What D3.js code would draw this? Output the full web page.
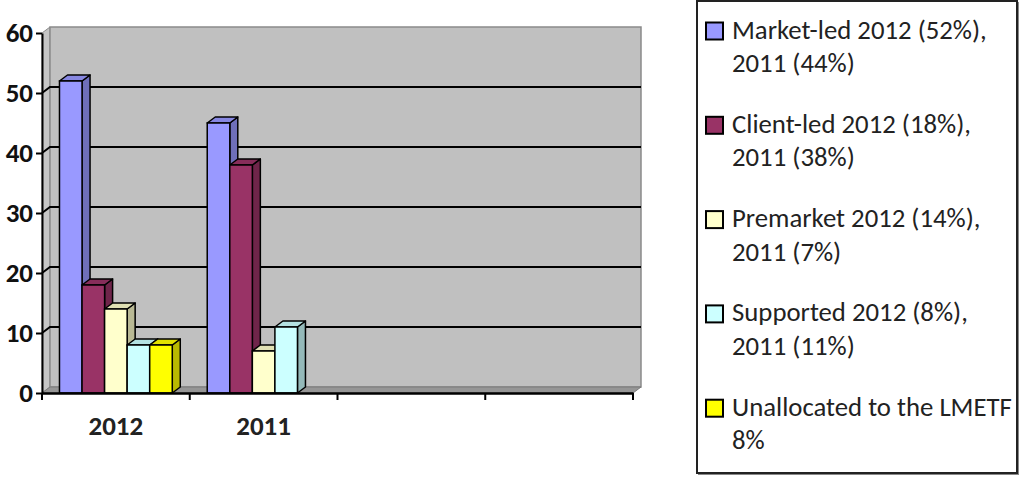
<!DOCTYPE html>
<html>
<head>
<meta charset="utf-8">
<script src="https://cdn.jsdelivr.net/npm/d3@7"></script>
<style>
  body { margin: 0; background: #fff; }
  text { font-family: Carlito, Calibri, Lato, sans-serif; }
</style>
</head>
<body>
<svg id="chart" width="1020" height="478"></svg>
<script>
// data
var categories = ["2012", "2011", "", ""];
var seriesNames = ["Market-led", "Client-led", "Premarket", "Supported", "Unallocated"];
var marketLed = [52, 45, null, null];
var clientLed = [18, 38, null, null];
var premarket = [14, 7, null, null];
var supported = [8, 11, null, null];
var unallocated = [8, null, null, null];
var seriesColors = ["#9999ff", "#993366", "#ffffcc", "#ccffff", "#ffff00"];
var yTicks = [0, 10, 20, 30, 40, 50, 60];
var legendLines = [
  ["Market-led 2012 (52%),", "2011 (44%)"],
  ["Client-led 2012 (18%),", "2011 (38%)"],
  ["Premarket 2012 (14%),", "2011 (7%)"],
  ["Supported 2012 (8%),", "2011 (11%)"],
  ["Unallocated to the LMETF", "8%"]
];

var seriesValues = [marketLed, clientLed, premarket, supported, unallocated];

var svg = d3.select("#chart");

var plot = { left: 42, right: 633, top: 33, bottom: 393 };
var depth = { dx: 8, dy: -6 };
var axisFont = "Carlito, Calibri, Lato, sans-serif";

var x = d3.scaleBand().domain(d3.range(categories.length)).range([plot.left, plot.right]).padding(0);
var xs = d3.scaleBand().domain(d3.range(seriesNames.length)).range([0, x.bandwidth()])
  .paddingInner(0).paddingOuter(0.775);
var y = d3.scaleLinear().domain([0, 60]).range([plot.bottom, plot.top]);

// walls and floor
var g = svg.append("g");
g.append("polygon")
  .attr("points", [[plot.left, y(60)], [plot.left + depth.dx, y(60) + depth.dy],
    [plot.left + depth.dx, y(0) + depth.dy], [plot.left, y(0)]].join(" "))
  .style("fill", "#c6c6c6").style("stroke", "#8a8a8a");
g.append("rect")
  .attr("x", plot.left + depth.dx).attr("y", y(60) + depth.dy)
  .attr("width", plot.right - plot.left).attr("height", y(0) - y(60))
  .style("fill", "#c0c0c0").style("stroke", "#8a8a8a").style("stroke-width", 1.5);
g.append("polygon")
  .attr("points", [[plot.left, y(0)], [plot.left + depth.dx, y(0) + depth.dy],
    [plot.right + depth.dx, y(0) + depth.dy], [plot.right, y(0)]].join(" "))
  .style("fill", "#969696").style("stroke", "#7a7a7a");

// gridlines on the walls
g.selectAll(".grid")
  .data(yTicks.filter(function(t){ return t > 0 && t < 60; }))
  .enter().append("polyline")
  .attr("class", "grid")
  .attr("points", function(t) {
    return [[plot.left, y(t)], [plot.left + depth.dx, y(t) + depth.dy],
      [plot.right + depth.dx, y(t) + depth.dy]].join(" ");
  })
  .style("fill", "none").style("stroke", "#000").style("stroke-width", 2);

// bars
var bars = [];
categories.forEach(function(c, ci) {
  seriesValues.forEach(function(vals, si) {
    if (vals[ci] != null) bars.push({ ci: ci, si: si, v: vals[ci] });
  });
});

var barG = svg.selectAll(".bar").data(bars).enter().append("g").attr("class", "bar");
barG.each(function(d) {
  var sel = d3.select(this);
  var x0 = x(d.ci) + xs(d.si), w = xs.bandwidth();
  var yt = y(d.v), yb = y(0);
  var base = d3.color(seriesColors[d.si]);
  sel.append("polygon")
    .attr("points", [[x0 + w, yt], [x0 + w + depth.dx, yt + depth.dy],
      [x0 + w + depth.dx, yb + depth.dy], [x0 + w, yb]].join(" "))
    .style("fill", base.darker(0.9)).style("stroke", "#000").style("stroke-width", 1.5)
    .style("stroke-linejoin", "round");
  sel.append("polygon")
    .attr("points", [[x0, yt], [x0 + depth.dx, yt + depth.dy],
      [x0 + w + depth.dx, yt + depth.dy], [x0 + w, yt]].join(" "))
    .style("fill", base.darker(0.35)).style("stroke", "#000").style("stroke-width", 1.5)
    .style("stroke-linejoin", "round");
  sel.append("rect")
    .attr("x", x0).attr("y", yt).attr("width", w).attr("height", yb - yt)
    .style("fill", base).style("stroke", "#000").style("stroke-width", 1.5);
});

// axes
var yAxis = d3.axisLeft(y).tickValues(yTicks).tickSize(6).tickSizeOuter(0).tickPadding(3);
var yg = svg.append("g").attr("transform", "translate(" + plot.left + ",0)").call(yAxis)
  .attr("font-family", axisFont).attr("font-size", 27).attr("font-weight", "bold");
yg.selectAll("path, line").style("stroke", "#000").style("stroke-width", 2);
yg.selectAll("text").style("fill", "#111");

var xAxis = d3.axisBottom(x).tickSize(0).tickSizeOuter(0).tickPadding(23)
  .tickFormat(function(i){ return categories[i]; });
var xg = svg.append("g").attr("transform", "translate(0," + plot.bottom + ")").call(xAxis)
  .attr("font-family", axisFont).attr("font-size", 27).attr("font-weight", "bold");
xg.select(".domain").style("stroke", "#000").style("stroke-width", 2.5);
xg.selectAll("text").style("fill", "#222");

// category boundary ticks
var bounds = d3.range(categories.length).map(function(i){ return x(i); }).concat([plot.right]);
xg.selectAll(".btick").data(bounds).enter().append("line")
  .attr("class", "btick")
  .attr("x1", function(d){ return d; }).attr("x2", function(d){ return d; })
  .attr("y1", 0).attr("y2", 7)
  .style("stroke", "#000").style("stroke-width", 2);

// legend
var legend = svg.append("g");
legend.append("rect").attr("x", 698).attr("y", 2).attr("width", 321).attr("height", 473)
  .style("fill", "#888");
legend.append("rect").attr("x", 697).attr("y", 1).attr("width", 320).attr("height", 472)
  .style("fill", "#fff").style("stroke", "#222").style("stroke-width", 2);

var itemStep = 94.3, lineStep = 33.5, firstBase = 38.5;
var items = legend.selectAll(".item").data(legendLines).enter().append("g").attr("class", "item")
  .attr("transform", function(d, i){ return "translate(0," + (firstBase + i * itemStep) + ")"; });
items.append("rect")
  .attr("x", 706).attr("y", -16).attr("width", 17).attr("height", 17)
  .style("fill", function(d, i){ return seriesColors[i]; })
  .style("stroke", "#000").style("stroke-width", 2);
var texts = items.selectAll("text").data(function(d){ return d; }).enter().append("text")
  .attr("x", 732).attr("y", function(d, j){ return j * lineStep; })
  .style("fill", "#222").style("font-size", "24px")
  .text(function(d){ return d; });

// fit legend font so the longest line spans the same width as in the picture
var longest = 0;
texts.each(function(){ longest = Math.max(longest, this.getComputedTextLength()); });
var fs = 24 * 280 / longest;
texts.style("font-size", fs.toFixed(2) + "px");
</script>
</body>
</html>
